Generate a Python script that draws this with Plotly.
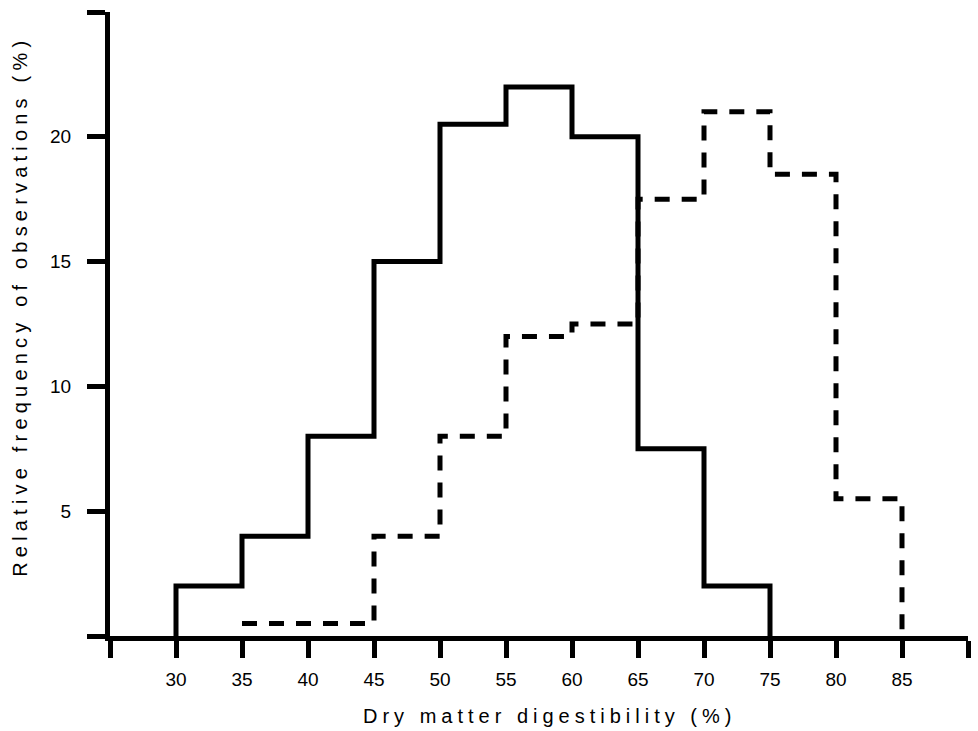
import plotly.graph_objects as go

# Bin edges (lower bounds) and relative frequencies (%)
solid_edges = [30, 35, 40, 45, 50, 55, 60, 65, 70, 75]
solid_values = [2, 4, 8, 15, 20.5, 22, 20, 7.5, 2]

dashed_edges = [35, 40, 45, 50, 55, 60, 65, 70, 75, 80, 85]
dashed_values = [0.5, 0.5, 4, 8, 12, 12.5, 17.5, 21, 18.5, 5.5]

x_ticks = [25, 30, 35, 40, 45, 50, 55, 60, 65, 70, 75, 80, 85, 90]
x_ticktext = ["", "30", "35", "40", "45", "50", "55", "60", "65", "70", "75", "80", "85", ""]
y_ticks = [0, 5, 10, 15, 20, 25]
y_ticktext = ["", "5", "10", "15", "20", ""]

x_title = "Dry matter digestibility (%)"
y_title = "Relative frequency of observations (%)"

FONT = "Liberation Sans, Arial, Helvetica, sans-serif"

fig = go.Figure()

# solid histogram outline (starts from baseline)
fig.add_trace(go.Scatter(
    x=[solid_edges[0]] + solid_edges,
    y=[0] + solid_values + [0],
    mode="lines", line=dict(color="black", width=5, shape="hv"),
    showlegend=False, cliponaxis=False, hoverinfo="skip"))

# dashed histogram outline
fig.add_trace(go.Scatter(
    x=dashed_edges,
    y=dashed_values + [0],
    mode="lines", line=dict(color="black", width=5, shape="hv", dash="15px,12px"),
    showlegend=False, cliponaxis=False, hoverinfo="skip"))

fig.update_layout(
    width=978, height=731,
    margin=dict(l=110, r=10, t=12, b=95),
    paper_bgcolor="white", plot_bgcolor="white",
    font=dict(family=FONT, color="black", size=19),
    xaxis=dict(range=[25, 90], tickvals=x_ticks, ticktext=x_ticktext,
               showgrid=False, zeroline=False, showline=True, linewidth=5, linecolor="black",
               ticks="outside", ticklen=17, tickwidth=5, tickcolor="black",
               tickfont=dict(size=19, family=FONT), ticklabelstandoff=5),
    yaxis=dict(range=[0, 25], tickvals=y_ticks, ticktext=y_ticktext,
               showgrid=False, zeroline=False, showline=True, linewidth=5, linecolor="black",
               ticks="outside", ticklen=18, tickwidth=5, tickcolor="black",
               tickfont=dict(size=19, family=FONT), ticklabelstandoff=12),
    annotations=[
        dict(text='<span style="letter-spacing:5px">' + x_title + '</span>',
             xref="paper", yref="paper", x=0.5117, y=-0.128,
             xanchor="center", yanchor="middle", showarrow=False,
             font=dict(size=20, family=FONT, color="black")),
        dict(text='<span style="letter-spacing:5.2px">' + y_title + '</span>',
             xref="paper", yref="paper", x=-0.105, y=0.529, textangle=-90,
             xanchor="center", yanchor="middle", showarrow=False,
             font=dict(size=20, family=FONT, color="black")),
    ],
)

fig.write_html("out.html", config={"displayModeBar": False},
               post_script="document.body.style.margin='0px';")
